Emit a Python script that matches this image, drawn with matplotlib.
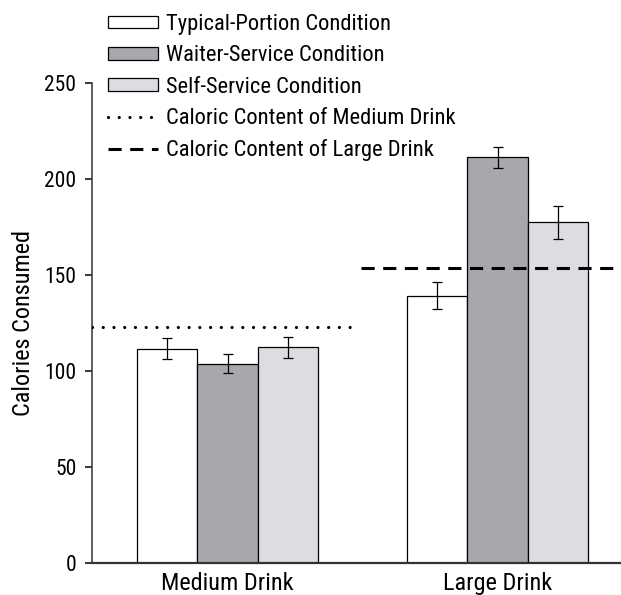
import matplotlib
matplotlib.use('Agg')
import matplotlib.pyplot as plt
from matplotlib.patches import Patch
from matplotlib.lines import Line2D
import numpy as np

groups = ['Medium Drink', 'Large Drink']
conditions = ['Typical-Portion Condition', 'Waiter-Service Condition', 'Self-Service Condition']
typical = [111.5, 139.1]
waiter = [103.6, 211.1]
self_service = [112.1, 177.2]
typical_err = [5.3, 7.2]
waiter_err = [5.0, 5.3]
self_err = [5.4, 8.7]
medium_content = 123.0
large_content = 153.6

plt.rcParams['font.family'] = ['Roboto Condensed', 'Liberation Sans', 'DejaVu Sans']

fig = plt.figure(figsize=(6.21, 5.95), dpi=100)
ax = fig.add_axes([0.1477, 0.0543, 0.8523, 0.8067])

x = np.arange(len(groups))
w = 0.2235
colors = ['white', '#a7a8ab', '#dcdde0']
series = [typical, waiter, self_service]
errs = [typical_err, waiter_err, self_err]
for i, (vals, err, col) in enumerate(zip(series, errs, colors)):
    ax.bar(x + (i - 1) * w, vals, w, color=col, edgecolor='black', linewidth=0.9,
           yerr=err, capsize=3.6, error_kw=dict(elinewidth=0.9, capthick=0.9, ecolor='black'),
           zorder=2)

dot_style = (0, (0.01, 3.35))
dash_style = (0, (4.3, 2.8))
ax.plot([-0.503, 0.476], [medium_content] * 2, color='black', lw=2.3,
        linestyle=dot_style, dash_capstyle='round', zorder=3)
ax.plot([0.493, 1.46], [large_content] * 2, color='black', lw=2.2,
        linestyle=dash_style, zorder=3)

ax.set_xlim(-0.503, 1.457)
ax.set_ylim(0, 250)
ax.set_yticks([0, 50, 100, 150, 200, 250])
ax.set_xticks(x)
ax.set_xticklabels(groups)
ax.set_ylabel('Calories Consumed', fontsize=17.5, labelpad=7)
ax.tick_params(axis='y', labelsize=15.5, length=5, width=1.1, direction='out', pad=6)
ax.tick_params(axis='x', labelsize=17.5, length=0, pad=7)
for s in ['top', 'right']:
    ax.spines[s].set_visible(False)
ax.spines['left'].set_color('#333333')
ax.spines['bottom'].set_color('#333333')
ax.spines['left'].set_linewidth(1.1)
ax.spines['bottom'].set_linewidth(1.6)

handles = [Patch(facecolor=c, edgecolor='black', linewidth=0.9) for c in colors]
handles.append(Line2D([], [], color='black', lw=2.3, linestyle=dot_style,
                      dash_capstyle='round'))
handles.append(Line2D([], [], color='black', lw=2.2, linestyle=dash_style))
labels = conditions + ['Caloric Content of Medium Drink', 'Caloric Content of Large Drink']
fig.legend(handles, labels, loc='upper left', bbox_to_anchor=(107.7 / 621, 1 - 14 / 595),
           frameon=False, fontsize=16.2, handlelength=2.22, handleheight=0.49,
           handletextpad=0.37, labelspacing=0.46, borderpad=0, borderaxespad=0)

fig.savefig('out.png', dpi=100)
